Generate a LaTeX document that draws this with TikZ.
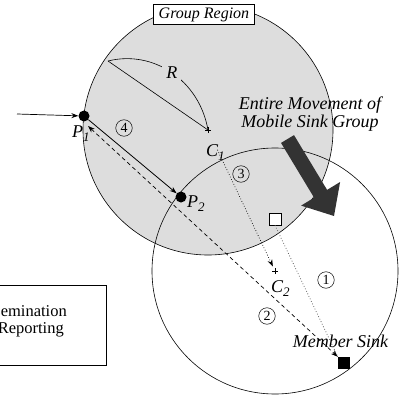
\documentclass[tikz,border=0pt]{standalone}
\usepackage{fontspec}
\setmainfont{Liberation Serif}
\usetikzlibrary{arrows.meta}
\definecolor{regionfill}{RGB}{221,221,221}
\definecolor{movefill}{RGB}{51,51,51}
\definecolor{pathgray}{RGB}{100,100,100}
\newcommand{\lsub}[1]{\raisebox{-4pt}{\fontsize{13}{13}\selectfont\itshape #1}}

\begin{document}
\begin{tikzpicture}[x=1pt,y=-1pt,
  dot/.style={circle,fill=black,inner sep=0pt,minimum size=11pt},
  num/.style={circle,draw,line width=0.5pt,inner sep=0pt,minimum size=16.5pt,
              font=\fontsize{14}{14}\selectfont},
  lbl/.style={inner sep=0pt,anchor=base west,font=\fontsize{18}{18}\selectfont\itshape},
  tip/.style={-{Stealth[length=7pt,width=5pt]}},
  bothtips/.style={{Stealth[length=7pt,width=5pt]}-{Stealth[length=7pt,width=5pt]}},
  thin line/.style={line width=0.6pt}
]
\useasboundingbox (0,0) rectangle (402,396);
\clip (0,0) rectangle (402,396);

% centres of the group region before and after the move
\coordinate (c1) at (208,130);
\coordinate (c2) at (275,271);

% group regions
\fill[regionfill] (c1) circle[radius=125pt];
\draw[thin line] (c2) circle[radius=123pt];
\draw[thin line] (c1) circle[radius=125pt];

% movement of the whole sink group
\fill[movefill] (294,135.1) -- (327.1,189.9) -- (340.1,182) -- (334,216)
  -- (301.1,205.6) -- (314.1,197.7) -- (281,142.9) -- cycle;
\node[lbl,anchor=base] (mv1) at (310,110) {Entire Movement of};
\node[lbl,anchor=base] (mv2) at (310,128) {Mobile Sink Group};

\node[draw,fill=white,thin line,inner xsep=5pt,inner ysep=3pt,
      font=\fontsize{16}{16}\selectfont\itshape] (grp) at (204,14.5) {Group Region};

% radius of the region
\coordinate (rs) at (108,61);
\draw[thin line] (rs) -- (c1);
\draw[thin line] (rs) .. controls (153.6,49.6) and (199.4,80.5) .. (c1)
  node[pos=0.5,fill=regionfill,inner sep=4pt,font=\fontsize{18}{18}\selectfont\itshape] (rlab) {R};

% centre marks
\draw[thin line] ([xshift=-3pt]c1) -- ([xshift=3pt]c1) ([yshift=-3pt]c1) -- ([yshift=3pt]c1);
\draw[thin line] ([xshift=-3pt]c2) -- ([xshift=3pt]c2) ([yshift=-3pt]c2) -- ([yshift=3pt]c2);
\node[lbl] (c1lab) at (206,156) {C\lsub{1}};
\node[lbl] (c2lab) at (271,292) {C\lsub{2}};

% sinks
\node[draw,fill=white,thin line,inner sep=0pt,minimum size=12pt] (sq) at (275,219) {};
\node[fill=black,inner sep=0pt,minimum size=12pt] (sink) at (344,363) {};
\node[lbl,anchor=base] (sinklab) at (340.5,347) {Member Sink};

% entry and exit points
\node[dot] (p1) at (84,116) {};
\node[dot] (p2) at (181,197) {};
\node[lbl] (p1lab) at (72,137) {P\lsub{1}};
\node[lbl] (p2lab) at (187,207) {P\lsub{2}};

\coordinate (src) at (17,114);
\coordinate (dA) at (88,126);
\draw[tip,line width=0.7pt] (src) -- (p1);
\draw[tip,line width=0.8pt] (p1) -- (p2);
\draw[bothtips,dash pattern=on 4pt off 3pt,line width=0.7pt] (dA) -- (sink.north west);
\draw[tip,dotted,line width=0.7pt,shorten <=22pt,shorten >=5pt] (c1) -- (c2);
\draw[pathgray,dotted,line width=0.8pt] (sq.south) -- (sink.north west);

% step numbers
\node[num] (n1) at (326,280) {1};
\node[num] (n2) at (267,316) {2};
\node[num] (n3) at (241,174) {3};
\node[num] (n4) at (124,128) {4};

% legend
\node[draw,thin line,minimum width=126pt,minimum height=80pt,inner sep=0pt] (legend) at (43,325) {};
\node[anchor=base east,inner sep=0pt,font=\fontsize{16.5}{16.5}\selectfont] (lg1) at (67,316) {Dissemination};
\node[anchor=base east,inner sep=0pt,font=\fontsize{16.5}{16.5}\selectfont] (lg2) at (64,333) {Reporting};
\end{tikzpicture}
\end{document}
